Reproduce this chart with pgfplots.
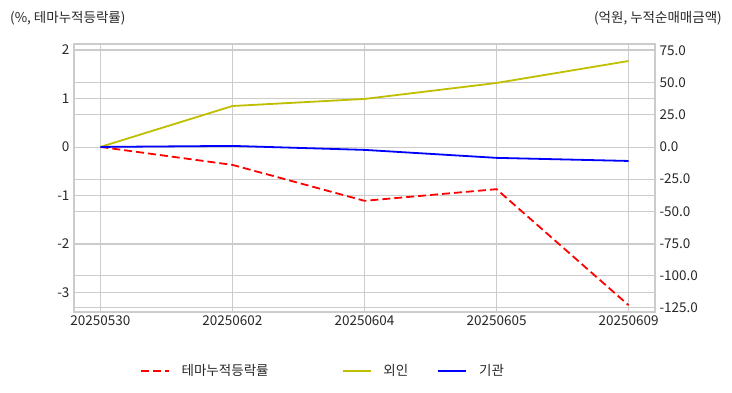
\documentclass[border=0pt]{standalone}
\usepackage{fontspec}
\setmainfont{Noto Sans CJK KR}
\usepackage{pgfplots}
\pgfplotsset{compat=1.18}
\definecolor{gridc}{gray}{0.8}
\definecolor{txt}{HTML}{262626}
\definecolor{oliv}{rgb}{0.75,0.75,0}
\begin{document}
\begin{tikzpicture}[font=\fontsize{13.5}{16}\selectfont]
\pgfplotsset{common/.style={at={(74pt,80pt)}, anchor=south west, scale only axis,
  width=581pt, height=268pt, xmin=-0.2, xmax=4.2, xtick={0,...,4},
  axis line style={draw=gridc, line width=1.25pt},
  grid style={draw=gridc, line width=0.8pt},
  major tick style={draw=none}, minor tick style={draw=none},
  /pgf/number format/assume math mode=true,
  tick label style={text=txt},
  yticklabel style={xshift=-1pt},
  xticklabel style={yshift=0pt}}}
\begin{axis}[common, ymin=-3.40, ymax=2.12, ytick={-3,-2,-1,0,1,2},
  ymajorgrids, xmajorgrids,
  extra y ticks={1.9875,1.325,0.6625,-0.6625,-1.325,-1.9875,-2.65,-3.3125},
  extra y tick labels={},
  extra y tick style={grid=major, major tick style={draw=none}},
  xticklabels={20250530,20250602,20250604,20250605,20250609}]
\addplot[red, dash pattern=on 8pt off 4pt, line width=1.8pt] coordinates {(0,0) (1,-0.37) (2,-1.11) (3,-0.87) (4,-3.26)};
\end{axis}
\begin{axis}[common, axis y line*=right, axis x line=none, ymin=-128.30, ymax=80,
  ytick={-125,-100,-75,-50,-25,0,25,50,75},
  yticklabel style={xshift=2pt},
  yticklabel={\pgfmathprintnumber[fixed, fixed zerofill, precision=1]{\tick}},
  legend style={at={(0.113,-0.219)}, anchor=west, draw=none, fill=none, text=txt,
    inner sep=0pt, nodes={inner xsep=0pt},
    legend columns=3,
    /tikz/every odd column/.style={column sep=12pt},
    /tikz/every even column/.style={column sep=29pt}},
  legend cell align=left,
  legend image code/.code={\draw[#1] (0pt,0pt) -- (28pt,0pt);}]
\addlegendimage{red, dash pattern=on 8pt off 4pt, line width=1.8pt}
\addlegendentry{\makebox[131pt][l]{테마누적등락률}}
\addplot[oliv, line width=1.8pt] coordinates {(0,0) (1,31.8) (2,37.3) (3,49.7) (4,66.8)};
\addlegendentry{외인}
\addplot[blue, line width=1.8pt] coordinates {(0,0) (1,0.8) (2,-2.3) (3,-8.5) (4,-10.9)};
\addlegendentry{기관}
\end{axis}
\node[anchor=west, text=txt, inner sep=0pt] at (10pt,374pt) {(\%, 테마누적등락률)};
\node[anchor=east, text=txt, inner sep=0pt] at (722pt,374pt) {(억원, 누적순매매금액)};
\path[use as bounding box] (0,0) rectangle (732pt,392pt);
\end{tikzpicture}
\end{document}
